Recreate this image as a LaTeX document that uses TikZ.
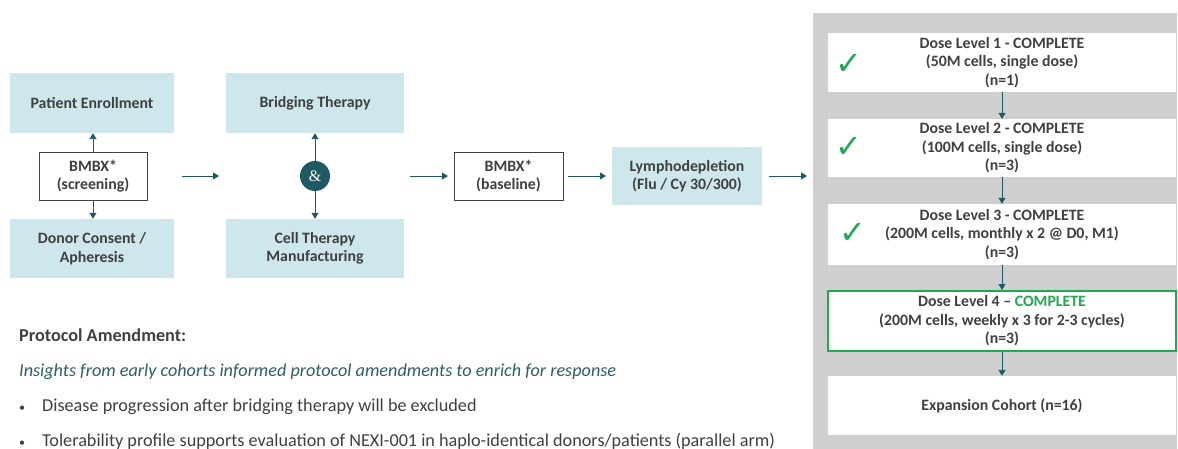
\documentclass[tikz,border=0pt]{standalone}
\usepackage{fontspec}
\setmainfont{Carlito}
\newfontfamily\djv{DejaVu Sans}
\newfontfamily\ampfont{Liberation Serif}
\usetikzlibrary{arrows.meta}
\definecolor{lblue}{HTML}{CDE7EC}
\definecolor{txtgray}{HTML}{404040}
\definecolor{teal}{HTML}{1F5963}
\definecolor{panelgray}{HTML}{D0CFCF}
\definecolor{dgreen}{HTML}{1EAA50}
\definecolor{itteal}{HTML}{2E5F66}
\tikzset{
  x=1pt, y=-1pt,
  every node/.style={text=txtgray, font=\fontsize{15.8}{18.5}\selectfont\bfseries, align=center, inner sep=0pt},
  bluebox/.style={fill=lblue, draw=none},
  wbox/.style={fill=white, draw=txtgray, line width=0.8pt},
  dlbox/.style={fill=white, draw=none, minimum width=348},
  conn/.style={draw=teal, line width=0.9pt, -{Triangle[width=7pt,length=6pt]}},
  chk/.style={text=dgreen, font=\djv\fontsize{32}{32}\selectfont},
  plain/.style={font=\fontsize{18.2}{20}\selectfont, anchor=base west, align=left}
}
\begin{document}
\begin{tikzpicture}
\useasboundingbox (0,0) rectangle (1178,449);
% left flow
\node[bluebox, minimum width=164, minimum height=60] (pe) at (92,103) {Patient Enrollment};
\node[wbox, minimum width=108, minimum height=48] (bs) at (93,176) {BMBX*\\(screening)};
\node[bluebox, minimum width=164, minimum height=59] (dc) at (92,248.5) {Donor Consent /\\Apheresis};
\draw[conn] (bs.north) -- (bs.north |- pe.south);
\draw[conn] (bs.south) -- (bs.south |- dc.north);

\node[bluebox, minimum width=178, minimum height=60] (bt) at (315,103) {Bridging Therapy};
\node[circle, fill=teal, minimum size=30, text=white, font=\ampfont\fontsize{16}{16}\selectfont] (amp) at (315,176) {\&};
\node[bluebox, minimum width=178, minimum height=59] (ct) at (315,248.5) {Cell Therapy\\Manufacturing};
\draw[conn] (amp.north) -- (bt.south);
\draw[conn] (amp.south) -- (ct.north);

\node[wbox, minimum width=109, minimum height=48] (bb) at (508.5,176) {BMBX*\\(baseline)};
\node[bluebox, minimum width=150, minimum height=58] (ly) at (687,176) {Lymphodepletion\\(Flu / Cy 30/300)};

\coordinate (a1s) at (182,176);
\coordinate (a1e) at (219,176);
\coordinate (a2s) at (410,176);
\coordinate (a2e) at (448,176);
\coordinate (a3s) at (568,176);
\coordinate (a3e) at (606,176);
\coordinate (a4s) at (769,176);
\coordinate (a4e) at (807,176);
\draw[conn] (a1s) -- (a1e);
\draw[conn] (a2s) -- (a2e);
\draw[conn] (a3s) -- (a3e);
\draw[conn] (a4s) -- (a4e);

% right panel
\fill[panelgray] (813,13) rectangle (1177,449);
\node[dlbox, minimum height=59] (d1) at (1002,62.5) {Dose Level 1 - COMPLETE\\(50M cells, single dose)\\(n=1)};
\node[dlbox, minimum height=58] (d2) at (1002,148) {Dose Level 2 - COMPLETE\\(100M cells, single dose)\\(n=3)};
\node[dlbox, minimum height=61] (d3) at (1002,234.5) {Dose Level 3 - COMPLETE\\(200M cells, monthly x 2 @ D0, M1)\\(n=3)};
\node[dlbox, draw=dgreen, line width=2pt, minimum width=348, minimum height=60] (d4) at (1002,321) {Dose Level 4 -- {\color{dgreen}COMPLETE}\\(200M cells, weekly x 3 for 2-3 cycles)\\(n=3)};
\node[dlbox, minimum height=59] (ex) at (1002,405.5) {Expansion Cohort (n=16)};
\draw[conn] (d1.south) -- (d2.north);
\draw[conn] (d2.south) -- (d3.north);
\draw[conn] (d3.south) -- (d4.north);
\draw[conn] (d4.south) -- (ex.north);
\node[chk] (c1) at (849,64) {✓};
\node[chk] (c2) at (849,147) {✓};
\node[chk] (c3) at (853,233) {✓};

% bottom text
\node[plain, font=\fontsize{18.2}{20}\selectfont\bfseries] (pa) at (19,341) {Protocol Amendment:};
\node[plain, font=\fontsize{18.2}{20}\selectfont\itshape, text=itteal] (ins) at (19,376) {Insights from early cohorts informed protocol amendments to enrich for response};
\node[plain, font=\fontsize{12}{20}\selectfont] (b1d) at (19,411) {•};
\node[plain] (b1) at (42,411) {Disease progression after bridging therapy will be excluded};
\node[plain, font=\fontsize{12}{20}\selectfont] (b2d) at (19,446) {•};
\node[plain] (b2) at (42,446) {Tolerability profile supports evaluation of NEXI-001 in haplo-identical donors/patients (parallel arm)};
\end{tikzpicture}
\end{document}
